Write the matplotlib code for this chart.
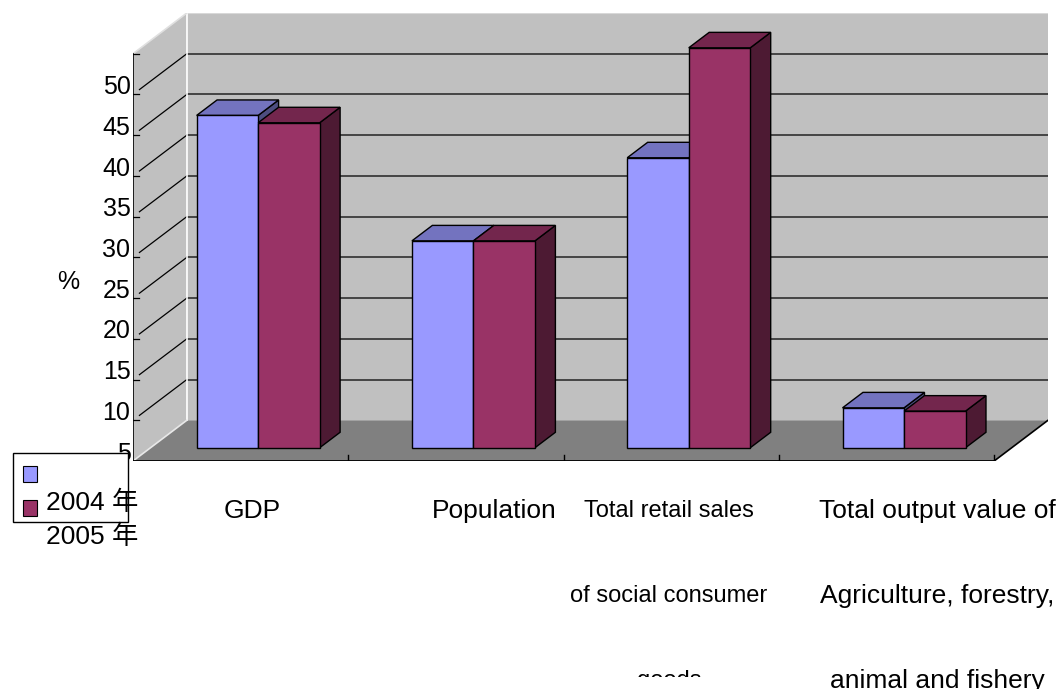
import matplotlib
matplotlib.use('Agg')
import matplotlib.pyplot as plt
from matplotlib.patches import Polygon, Rectangle
from matplotlib.transforms import Bbox, TransformedBbox

plt.rcParams['font.family'] = ['Liberation Sans', 'Noto Sans CJK SC']

# data (percent)
categories = [['GDP'],
              ['Population'],
              ['Total retail sales', 'of social consumer', 'goods'],
              ['Total output value of', 'Agriculture, forestry,', 'animal and fishery']]
series_names = ['2004 年', '2005 年']
values_2004 = [45.8, 30.4, 40.6, 9.9]
values_2005 = [44.9, 30.4, 54.1, 9.5]
y_ticks = [5, 10, 15, 20, 25, 30, 35, 40, 45, 50]

# front / top / side colours for each series
blue = ('#9999FF', '#7373BF', '#4D4D80')
red = ('#993366', '#73264D', '#4D1A33')

W, H = 1061, 689
fig = plt.figure(figsize=(W / 100, H / 100), dpi=100)

# main axes = front plane of the 3d box
ax = fig.add_axes([133 / W, (H - 461) / H, (1048 - 133) / W, (461 - 13) / H])
ax.set_xlim(0, 4.25)
ax.set_ylim(5, 60)
ax.axis('off')

DX, DY = 0.25, 5.0      # depth of the floor in category / value units
y0 = 5
ymax = 55
n = len(values_2004)

# walls and floor
wall = '#C0C0C0'
ax.add_patch(Polygon([(0, y0), (0, ymax), (DX, ymax + DY), (DX, y0 + DY)],
                     closed=True, facecolor=wall, edgecolor='none', zorder=1))
ax.add_patch(Rectangle((DX, y0 + DY), n, ymax - y0, facecolor=wall,
                       edgecolor='none', zorder=1))
ax.add_patch(Polygon([(0, y0), (DX, y0 + DY), (n + DX, y0 + DY), (n, y0)],
                     closed=True, facecolor='#808080', edgecolor='none', zorder=2))
ax.plot([DX, n + DX], [ymax + DY, ymax + DY], color='#D8D8D8', lw=1.5, zorder=2)
ax.plot([DX, DX], [y0 + DY, ymax + DY], color='white', lw=1.2, zorder=3)
ax.plot([0, DX], [ymax, ymax + DY], color='#E0E0E0', lw=1.2, zorder=3)
ax.plot([0, DX], [y0, y0 + DY], color='#E8E8E8', lw=1.2, zorder=3)

# gridlines on back wall and side wall
for v in y_ticks[1:]:
    ax.plot([DX, n + DX], [v + DY, v + DY], color='#3A3A3A', lw=1.3, zorder=2)
    ax.plot([0.03, DX], [v + DY * 0.03 / DX, v + DY], color='black', lw=0.9, zorder=2)
    ax.plot([0, 0.03], [v, v], color='black', lw=0.9, zorder=2)

# axis lines
ax.plot([0, 0], [y0, ymax], color='black', lw=1.2, zorder=4)
ax.plot([0, 0.03], [ymax, ymax], color='black', lw=0.9, zorder=4)
ax.plot([0, n], [y0, y0], color='black', lw=1.3, zorder=4)
ax.plot([n, n + DX], [y0, y0 + DY], color='black', lw=1.2, zorder=4)
for i in range(1, n + 1):
    ax.plot([i, i], [y0, y0 + 0.75], color='black', lw=1, zorder=4)

for v in y_ticks:
    ax.text(-0.012, v + 0.9, str(v), ha='right', va='center', fontsize=18, zorder=5)

# 3d bars
bw = 1 / 3.5
ox, oy = DX * 0.325, DY * 0.325   # front of bars
bx, by = DX * 0.38, DY * 0.38     # bar depth
z = 10
for i in range(n):
    for s, (vals, col) in enumerate([(values_2004, blue), (values_2005, red)]):
        x = i + 0.5 - bw + s * bw + ox
        b = y0 + oy
        t = vals[i] + oy
        side = [(x + bw, b), (x + bw + bx, b + by), (x + bw + bx, t + by), (x + bw, t)]
        top = [(x, t), (x + bx, t + by), (x + bw + bx, t + by), (x + bw, t)]
        ax.add_patch(Polygon(side, closed=True, facecolor=col[2], edgecolor='black', lw=1, zorder=z))
        ax.add_patch(Polygon(top, closed=True, facecolor=col[1], edgecolor='black', lw=1, zorder=z + 1))
        ax.add_patch(Rectangle((x, b), bw, t - b, facecolor=col[0], edgecolor='black', lw=1, zorder=z + 2))
        z += 3

# overlay in pixel coords for labels and legend
ov = fig.add_axes([0, 0, 1, 1], zorder=5)
ov.set_xlim(0, W)
ov.set_ylim(H, 0)
ov.axis('off')

ov.text(68, 282, '%', ha='center', va='center', fontsize=18)

label_pos = [(252, 19), (494, 19), (669, 17), (937, 19)]
for lines, (cx, fs) in zip(categories, label_pos):
    for k, line in enumerate(lines):
        t = ov.text(cx, 511 + 85 * k, line, ha='center', va='center', fontsize=fs)
        if line == 'goods':
            t.set_clip_box(TransformedBbox(Bbox([[540 / W, 1 - 677 / H], [800 / W, 1 - 640 / H]]),
                                           fig.transFigure))
            t.set_clip_on(True)

# legend (labels sit one row below their keys, as in the original)
ov.add_patch(Rectangle((13, 453), 115, 69, facecolor='white', edgecolor='black', lw=1, zorder=6))
ov.add_patch(Rectangle((23, 466), 14, 16, facecolor=blue[0], edgecolor='black', lw=0.8, zorder=7))
ov.add_patch(Rectangle((23, 500), 14, 16, facecolor=red[0], edgecolor='black', lw=0.8, zorder=7))
ov.text(46, 503, series_names[0], ha='left', va='center', fontsize=19, zorder=8)
ov.text(46, 537, series_names[1], ha='left', va='center', fontsize=19, zorder=8)

fig.savefig('out.png', dpi=100)
